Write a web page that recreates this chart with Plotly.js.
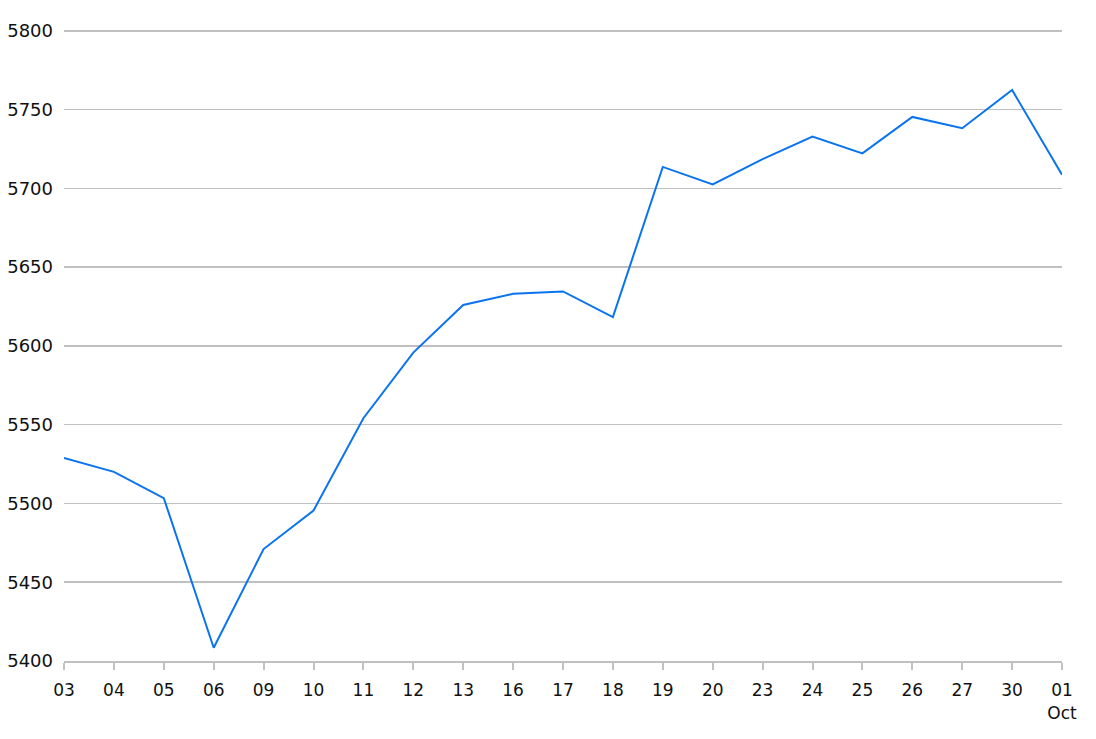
<!DOCTYPE html>
<html>
<head>
<meta charset="utf-8">
<script src="https://cdn.plot.ly/plotly-3.0.1.min.js"></script>
<style>html,body{margin:0;padding:0;background:#fff;}#chart{width:1096px;height:739px;}</style>
</head>
<body>
<div id="chart"></div>
<script>
const dates = ["2024-09-03","2024-09-04","2024-09-05","2024-09-06","2024-09-09","2024-09-10","2024-09-11","2024-09-12","2024-09-13","2024-09-16","2024-09-17","2024-09-18","2024-09-19","2024-09-20","2024-09-23","2024-09-24","2024-09-25","2024-09-26","2024-09-27","2024-09-30","2024-10-01"];
const closeValues = [5528.93,5520.07,5503.41,5408.42,5471.05,5495.52,5554.13,5595.76,5626.02,5633.09,5634.58,5618.26,5713.64,5702.55,5718.57,5732.93,5722.26,5745.37,5738.17,5762.48,5708.75];
const tickLabels = ["03","04","05","06","09","10","11","12","13","16","17","18","19","20","23","24","25","26","27","30","01<br>Oct"];
const yTicks = [5400,5450,5500,5550,5600,5650,5700,5750,5800];

Plotly.newPlot('chart', [{
  x: dates,
  y: closeValues,
  type: 'scatter',
  mode: 'lines',
  line: {color: '#0a74f0', width: 2},
  hoverinfo: 'x+y'
}], {
  width: 1096, height: 739,
  margin: {l: 64, r: 34, t: 29, b: 78},
  paper_bgcolor: '#fff', plot_bgcolor: '#fff',
  showlegend: false,
  font: {family: 'DejaVu Sans', size: 18, color: '#111'},
  xaxis: {
    type: 'category',
    range: [0, dates.length - 1],
    tickvals: dates,
    ticktext: tickLabels,
    showgrid: false,
    showline: true, linecolor: '#c0c0c0', linewidth: 2,
    ticks: 'outside', ticklen: 7, tickcolor: '#c0c0c0', tickwidth: 2,
    ticklabelstandoff: 6,
    zeroline: false,
    tickfont: {size: 17}
  },
  yaxis: {
    range: [5400, 5801.2],
    tickvals: yTicks,
    showgrid: true, gridcolor: '#c0c0c0', gridwidth: 1.5,
    zeroline: false, showline: false, ticks: '',
    ticklabelstandoff: 10,
    tickfont: {size: 18}
  }
}, {displayModeBar: false, staticPlot: true});
</script>
</body>
</html>
